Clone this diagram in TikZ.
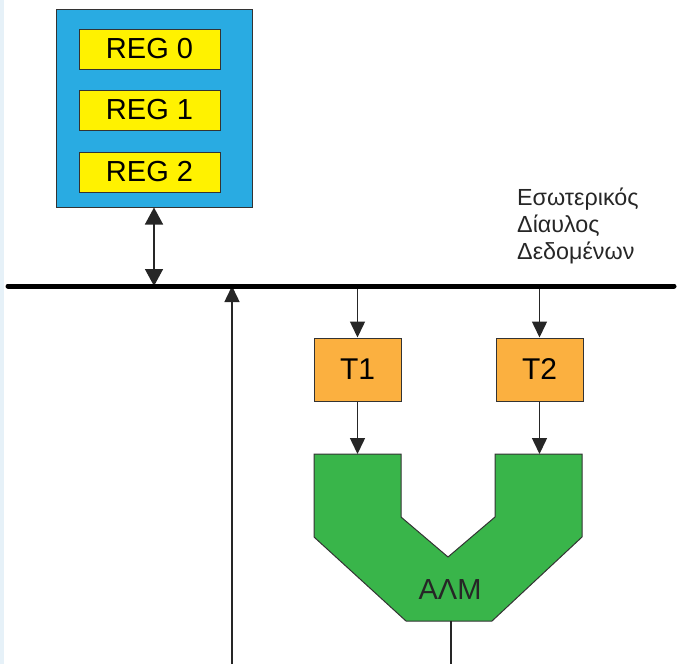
\documentclass[tikz,border=0pt]{standalone}
\usepackage{fontspec}
\setmainfont{Liberation Sans}
\usetikzlibrary{positioning, arrows.meta}
\definecolor{rfcolor}{HTML}{29ABE2}
\definecolor{regcolor}{HTML}{FFF200}
\definecolor{tcolor}{HTML}{FBB040}
\definecolor{alucolor}{HTML}{39B54A}
\definecolor{edgecolor}{HTML}{E6F1F8}

\begin{document}
\begin{tikzpicture}[x=1pt, y=-1pt,
    regfile/.style={rectangle, draw=black!80, fill=rfcolor, minimum width=196pt, minimum height=198pt, line width=1pt},
    reg/.style={rectangle, draw=black!80, fill=regcolor, minimum width=141pt, minimum height=40pt, inner sep=0pt, font=\fontsize{29}{34}\selectfont, line width=1pt},
    tmp/.style={rectangle, draw=black!80, fill=tcolor, minimum width=87pt, minimum height=63pt, inner sep=0pt, font=\fontsize{30}{36}\selectfont, line width=1pt},
    alu/.style={draw=black!80, fill=alucolor, line width=1pt},
    arr/.style={-{Triangle[length=16pt, width=15pt]}, line width=1.5pt, black!85},
    wire/.style={line width=1.5pt, black!85},
    bus/.style={line width=5pt, line cap=round},
    lbl/.style={font=\fontsize{23.3}{27}\selectfont, align=left, inner sep=0pt, anchor=north west, text=black!85},
  ]
    \useasboundingbox (0,0) rectangle (679,664);
    \fill[edgecolor] (0,0) rectangle (4,664);

    % register file
    \node[regfile] (rf) at (154,108) {};
    \node[reg] (reg0) at (149.5,49) {REG 0};
    \node[reg, below=20pt of reg0] (reg1) {REG 1};
    \node[reg, below=21pt of reg1] (reg2) {REG 2};

    % internal data bus
    \coordinate (busW) at (8,286);
    \coordinate (busE) at (674,286);
    \node[lbl] (buslbl) at (517,188) {Εσωτερικός\\Δίαυλος\\Δεδομένων};

    % temporary registers
    \node[tmp] (t1) at (357.5,369.5) {T1};
    \node[tmp, right=94pt of t1] (t2) {T2};

    % ALU
    \draw[alu] (314,454) -- (401,454) -- (401,517) -- (448,557) -- (495,517) -- (495,454)
      -- (582,454) -- (582,537) -- (492,621) -- (406,621) -- (314,537) -- cycle;
    \node[font=\fontsize{29}{34}\selectfont, text=black!85] (alulbl) at (450,590) {ΑΛΜ};
    \coordinate (aluA) at (t1.south |- 0,454);
    \coordinate (aluB) at (t2.south |- 0,454);
    \coordinate (aluOut) at (451,621);
    \coordinate (outEnd) at (451,664);
    \coordinate (accIn) at (232,664);

    \draw[arr, {Triangle[length=17pt, width=18pt]}-{Triangle[length=17pt, width=18pt]}] (rf.south) -- (rf.south |- busW);
    \draw[arr] (accIn) -- (accIn |- busW);
    \draw[arr] (t1.north |- busW) -- (t1.north);
    \draw[arr] (t2.north |- busW) -- (t2.north);
    \draw[arr] (t1.south) -- (aluA);
    \draw[arr] (t2.south) -- (aluB);
    \draw[wire] (aluOut) -- (outEnd);

    \draw[bus] (busW) -- (busE);
\end{tikzpicture}
\end{document}
